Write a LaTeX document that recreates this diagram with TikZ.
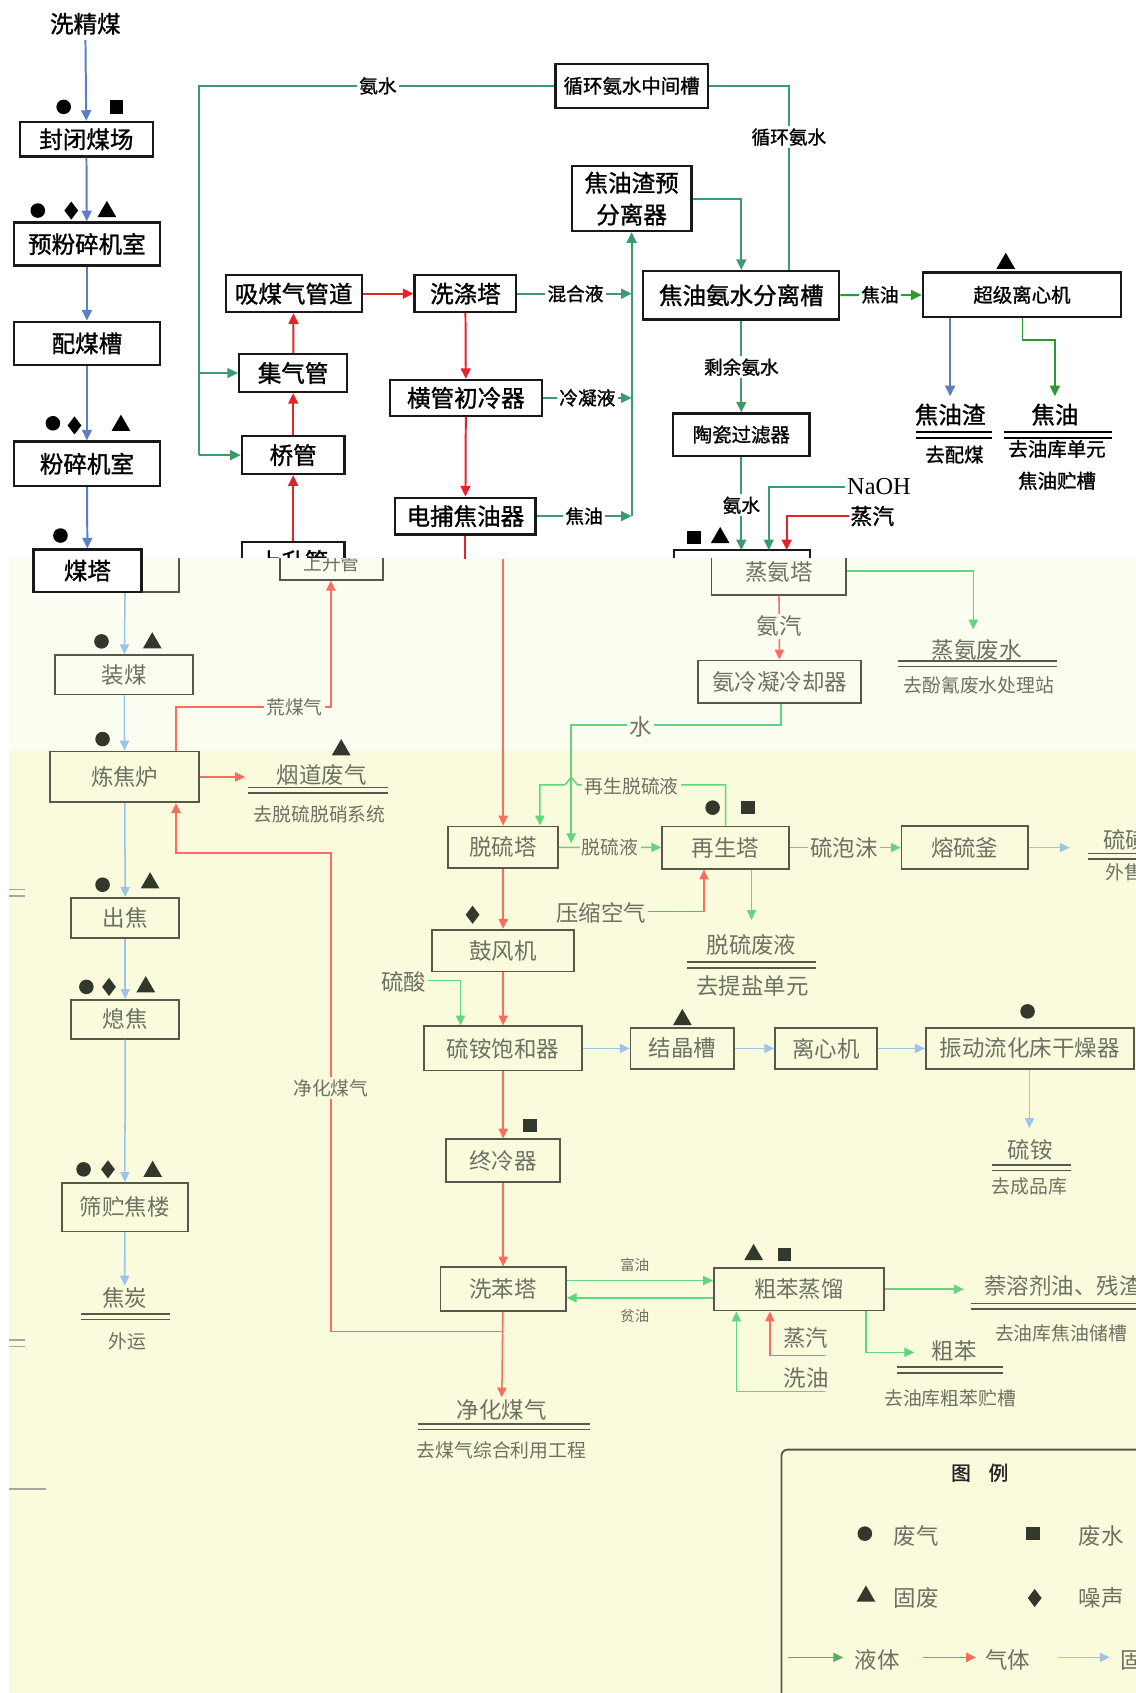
\documentclass[tikz,border=0pt]{standalone}
\usepackage{fontspec}
\setmainfont{Noto Sans CJK SC}
\newfontfamily\cjkbold[FakeBold=1.2]{Noto Sans CJK SC}
\newfontfamily\latinserif{Liberation Serif}
\usepackage{xcolor}
\usetikzlibrary{arrows.meta,shapes.geometric,positioning}

\definecolor{lq}{HTML}{3B9B6D}
\definecolor{lg}{HTML}{2A9A30}
\definecolor{gs}{HTML}{E5232B}
\definecolor{sd}{HTML}{5A7FC3}
\definecolor{flq}{HTML}{5FD67F}
\definecolor{fgs}{HTML}{FF6B5F}
\definecolor{fsd}{HTML}{9BC4E8}
\definecolor{boxc}{HTML}{55584A}
\definecolor{ftx}{HTML}{6F7062}
\definecolor{bgA}{HTML}{FCFDF1}
\definecolor{bgB}{HTML}{F9FBDC}
\definecolor{mk}{HTML}{34382C}

\newcommand\szA{\cjkbold\fontsize{15.5}{18}\selectfont}
\newcommand\szB{\cjkbold\fontsize{12.8}{15}\selectfont}
\newcommand\szC{\cjkbold\fontsize{12.3}{14}\selectfont}
\newcommand\szD{\fontsize{14.8}{17}\selectfont}
\newcommand\szE{\fontsize{12.4}{14}\selectfont}
\newcommand\szF{\fontsize{9.5}{11}\selectfont}

\tikzset{
  sz/.style 2 args={minimum width=#1*0.025cm,minimum height=#2*0.025cm},
  box/.style={draw=black!90,line width=1.5pt,fill=white,inner sep=1pt,font=\szA},
  fbx/.style={draw=boxc,line width=1.2pt,inner sep=1pt,text=ftx,font=\szD},
  lab/.style={fill=white,inner sep=1.5pt,font=\szC},
  flab/.style={fill=#1,inner sep=1.5pt,text=ftx,font=\szE},
  flab/.default=bgB,
  ft/.style={text=ftx,font=\szD,inner sep=1pt},
  hd/.style={-{Triangle[length=7pt,width=6.5pt]}},
  fhd/.style={-{Triangle[length=6.5pt,width=6pt]}},
  ln/.style={draw=lq,line width=1.3pt},
  la/.style={ln,hd},
  lga/.style={draw=lg,line width=1.3pt,hd},
  ga/.style={draw=gs,line width=1.3pt,hd},
  sa/.style={draw=sd,line width=1.3pt,hd},
  fla/.style={draw=flq,line width=1pt,fhd},
  fga/.style={draw=fgs,line width=1pt,fhd},
  fsa/.style={draw=fsd,line width=1pt,fhd},
  dbl/.style={double=#1,double distance=2.6pt,line width=1.1pt},
  dbl/.default=white,
  mc/.style={circle,fill=#1,inner sep=0pt,minimum size=13.5*0.025cm},
  mc/.default=black,
  msq/.style={rectangle,fill=#1,inner sep=0pt,minimum size=12.5*0.025cm},
  msq/.default=black,
  mtr/.style={regular polygon,regular polygon sides=3,fill=#1,inner sep=0pt,minimum size=20*0.025cm},
  mtr/.default=black,
  mdm/.style={diamond,fill=#1,inner sep=0pt,minimum width=13*0.025cm,minimum height=17*0.025cm},
  mdm/.default=black
}

\begin{document}
\begin{tikzpicture}[x=0.025cm,y=-0.025cm]

  \useasboundingbox (0,0) rectangle (1052,1568);
  \clip (0,0) rectangle (1052,1568);
  \fill[white] (0,0) rectangle (1052,1568);
  \fill[bgA] (8,517) rectangle (1052,695);
  \fill[bgB] (8,695) rectangle (1052,1568);
  \draw[black!35,line width=1pt] (8,824) -- (23,824) (8,830) -- (23,830)
    (8,1241) -- (23,1241) (8,1247) -- (23,1247) (8,1379) -- (43,1379);

  \begin{scope}
    \clip (0,517) rectangle (1052,1568);
    \node[fbx,sz={100}{39}] (fmt) at (116,528.5) {};
    \node[fbx,sz={96}{30},font=\szE] (fss) at (307,522) {上升管};
    \node[fbx,sz={124.6}{42}] (fz) at (721.3,530) {蒸氨塔};
  \end{scope}

  \node[fbx,sz={128}{36.5}] (zm) at (115,625) {装煤};
  \node[fbx,sz={138}{47}] (lj) at (115.5,719.5) {炼焦炉};
  \node[fbx,sz={100}{37}] (cj) at (116,850) {出焦};
  \node[fbx,sz={100}{36}] (xj) at (116,944) {熄焦};
  \node[fbx,sz={117}{45}] (sc) at (115.6,1118) {筛贮焦楼};
  \node[ft] (jt) at (115.5,1202) {焦炭};
  \draw[boxc,dbl=bgB] (74.7,1219.5) -- (157,1219.5);
  \node[ft,font=\szE] (wy) at (118,1242) {外运};
  \path (fmt) edge[fsa] (zm) (zm) edge[fsa] (lj) (lj) edge[fsa] (cj)
    (cj) edge[fsa] (xj) (xj) edge[fsa] (sc) (sc) edge[fsa] (jt);
  \node[mc=mk] (n1) at (94,594) {}; \node[mtr=mk] (n2) at (141,595.5) {};
  \node[mc=mk] (n3) at (95,684.5) {};
  \node[mc=mk] (n4) at (95,819.4) {}; \node[mtr=mk] (n5) at (139,817.8) {};
  \node[mc=mk] (n6) at (80,914) {}; \node[mdm=mk] (n7) at (101,914) {};
  \node[mtr=mk] (n8) at (135,914) {};
  \node[mc=mk] (n9) at (77.4,1083) {}; \node[mdm=mk] (n10) at (100,1083) {};
  \node[mtr=mk] (n11) at (141.4,1085) {};

  \coordinate (h1) at (163,655);
  \coordinate (h2) at (306.4,655);
  \draw[fga] (lj.north -| h1) -- (h1) -- (h2) -- (fss.south -| h2);
  \node[flab=bgA] (hm) at (272.7,655) {荒煤气};
  \coordinate (yd1) at (227,719.6);
  \draw[fga] (lj.east |- yd1) -- (yd1);
  \node[ft] (yd) at (298,717.6) {烟道废气};
  \draw[boxc,dbl=bgB] (230,732) -- (359,732);
  \node[ft,font=\szE] (yq) at (296,754.6) {去脱硫脱硝系统};
  \node[mtr=mk] (n12) at (316,694.5) {};

  \coordinate (g0) at (466,518);
  \node[fbx,sz={102}{38.3}] (ts) at (466,784.6) {脱硫塔};
  \node[fbx,sz={131.6}{38.7}] (gf) at (466,880.4) {鼓风机};
  \node[fbx,sz={146.5}{41}] (la) at (466,971) {硫铵饱和器};
  \node[fbx,sz={105.5}{39.5}] (zl) at (466,1075) {终冷器};
  \node[fbx,sz={116}{40.5}] (xb) at (466,1194) {洗苯塔};
  \node[ft] (jh) at (464.6,1305.5) {净化煤气};
  \draw[boxc,dbl=bgB] (387,1321.4) -- (546.7,1321.4);
  \node[ft,font=\szE] (jq2) at (464.5,1343) {去煤气综合利用工程};
  \path (g0) edge[fga] (ts) (ts) edge[fga] (gf) (gf) edge[fga] (la)
    (la) edge[fga] (zl) (zl) edge[fga] (xb) (xb) edge[fga] (jh);
  \node[mdm=mk] (n13) at (437.7,847.2) {};
  \node[msq=mk] (n14) at (491,1042.6) {};

  \coordinate (r1) at (466,1233);
  \coordinate (r2) at (306.4,1233);
  \coordinate (r3) at (306.4,790);
  \coordinate (r4) at (163,790);
  \draw[fga] (r1) -- (r2) -- (r3) -- (r4) -- (lj.south -| r4);
  \node[flab] (jhl) at (306.4,1007.6) {净化煤气};

  \node[ft] (ls) at (373.7,909) {硫酸};
  \coordinate (ls1) at (426.5,908);
  \draw[fla] (ls.east |- ls1) -- (ls1) -- (ls1 |- la.north);

  \coordinate (f1) at (901.4,529);
  \coordinate (f2) at (901.4,583);
  \draw[fla] (fz.east |- f1) -- (f1) -- (f2);
  \node[ft] (zf) at (904.6,602) {蒸氨废水};
  \draw[boxc,dbl=bgA] (832,614.8) -- (978.7,614.8);
  \node[ft,font=\szE] (zf2) at (906.6,635) {去酚氰废水处理站};

  \node[fbx,sz={151}{39.5}] (al) at (722,631.4) {氨冷凝冷却器};
  \draw[fga] (fz) -- (al);
  \node[flab=bgA,font=\szD] (aq) at (721.8,580) {氨汽};

  \node[fbx,sz={117.5}{39}] (zs) at (672,785) {再生塔};
  \node[fbx,sz={117}{39.5}] (rl) at (893.5,785) {熔硫釜};
  \coordinate (a1) at (723.5,671.3);
  \coordinate (a2) at (529,671.3);
  \coordinate (a3) at (529,781);
  \draw[fla] (al.south -| a1) -- (a1) -- (a2) -- (a3);
  \node[flab=bgA,font=\szD] (aw3) at (593,673) {水};
  \coordinate (b1) at (500,727);
  \coordinate (b2) at (672,727);
  \draw[fla] (zs.north) -- (b2) -- (535,727) -- (529,720) -- (523,727) -- (b1)
    -- (b1 |- ts.north);
  \node[flab] (zt) at (585,728.4) {再生脱硫液};
  \draw[fla] (ts) -- (zs);
  \node[flab] (tl) at (565,785) {脱硫液};
  \draw[fla] (zs) -- (rl);
  \node[flab,font=\szD] (lp) at (781.5,785) {硫泡沫};
  \node[mc=mk] (n15) at (660,748) {}; \node[msq=mk] (n16) at (692.8,748) {};

  \node[ft] (ys) at (557,845.5) {压缩空气};
  \coordinate (y1) at (652,844);
  \draw[fga] (ys.east |- y1) -- (y1) -- (y1 |- zs.south);
  \coordinate (t1) at (696,852);
  \draw[fla] (zs.south -| t1) -- (t1);
  \node[ft] (tf) at (696,875) {脱硫废液};
  \draw[boxc,dbl=bgB] (636,893.8) -- (756,893.8);
  \node[ft] (ty) at (697,913.6) {去提盐单元};

  \coordinate (s1) at (990.7,785);
  \draw[fsa] (rl) -- (s1);
  \node[ft,anchor=west] (lh) at (1020,777.8) {硫磺};
  \draw[boxc,dbl=bgB] (1007.6,793) -- (1060,793);
  \node[ft,font=\szE,anchor=west] (ws) at (1022,808) {外售};

  \node[fbx,sz={96}{38}] (jj) at (632,971) {结晶槽};
  \node[fbx,sz={94}{38}] (lx2) at (765,971) {离心机};
  \node[fbx,sz={192.6}{38}] (gz) at (953.7,971) {振动流化床干燥器};
  \path (la) edge[fsa] (jj) (jj) edge[fsa] (lx2) (lx2) edge[fsa] (gz);
  \node[mtr=mk] (n17) at (632,944.4) {};
  \node[mc=mk] (n18) at (951.7,936.7) {};
  \coordinate (g1) at (953.4,1044.7);
  \draw[fsa] (gz.south -| g1) -- (g1);
  \node[ft] (la2) at (954,1065) {硫铵};
  \draw[boxc,dbl=bgB] (919,1081.5) -- (992,1081.5);
  \node[ft,font=\szE] (cp) at (953.4,1098.8) {去成品库};

  \node[fbx,sz={157.5}{39.6}] (cb) at (740,1194) {粗苯蒸馏};
  \node[mtr=mk] (n19) at (698,1162) {}; \node[msq=mk] (n20) at (726.4,1162) {};
  \draw[fla] ([yshift=0.2cm]xb.east) -- ([yshift=0.2cm]cb.west);
  \draw[fla] ([yshift=-0.2cm]cb.west) -- ([yshift=-0.2cm]xb.east);
  \node[ft,font=\szF] (fy) at (588,1171.3) {富油};
  \node[ft,font=\szF] (py) at (588,1219) {贫油};
  \coordinate (q1) at (892.6,1194);
  \draw[fla] (cb) -- (q1);
  \node[ft,anchor=west] (rj) at (910,1191) {萘溶剂油、残渣};
  \draw[boxc,dbl=bgB] (899,1209.7) -- (1060,1209.7);
  \node[ft,font=\szE,anchor=west] (yk) at (920,1234.6) {去油库焦油储槽};
  \coordinate (p1) at (802,1252.5);
  \coordinate (p2) at (846.8,1252.5);
  \draw[fla] (cb.south -| p1) -- (p1) -- (p2);
  \node[ft] (cbn) at (883.8,1251.5) {粗苯};
  \draw[boxc,dbl=bgB] (831,1268.7) -- (928.7,1268.7);
  \node[ft,font=\szE] (ck) at (880,1294.7) {去油库粗苯贮槽};
  \coordinate (e1) at (764,1255.5);
  \coordinate (e2) at (713,1255.5);
  \draw[fga] (e1) -- (e2) -- (e2 |- cb.south);
  \node[ft] (zq2) at (746,1239) {蒸汽};
  \coordinate (o1) at (764,1288.6);
  \coordinate (o2) at (682,1288.6);
  \draw[fla] (o1) -- (o2) -- (o2 |- cb.south);
  \node[ft] (xy) at (746.5,1276) {洗油};

  \draw[boxc,line width=1.2pt,rounded corners=4pt] (723.8,1342.6) rectangle (1140,1640);
  \node[font=\cjkbold\fontsize{13}{15}\selectfont,text=black!85] (tu) at (907.4,1364) {图\hspace{0.9em}例};
  \node[mc=mk] (l1) at (801,1420.4) {};
  \node[ft,anchor=west] (l1t) at (826,1423) {废气};
  \node[msq=mk] (l2) at (956.8,1420.4) {};
  \node[ft,anchor=west] (l2t) at (997.5,1423) {废水};
  \node[mtr=mk] (l3) at (802,1478.4) {};
  \node[ft,anchor=west] (l3t) at (826,1480) {固废};
  \node[mdm=mk] (l4) at (958.3,1480) {};
  \node[ft,anchor=west] (l4t) at (997.5,1480) {噪声};
  \coordinate (k1) at (730,1535); \coordinate (k2) at (780.9,1535);
  \coordinate (k3) at (855,1535); \coordinate (k4) at (904,1535);
  \coordinate (k5) at (980,1535); \coordinate (k6) at (1027.8,1535);
  \draw[fla,draw=lg!80] (k1) -- (k2);
  \draw[fga] (k3) -- (k4);
  \draw[fsa] (k5) -- (k6);
  \node[ft,anchor=west] (k2t) at (790,1537) {液体};
  \node[ft,anchor=west] (k4t) at (911,1537) {气体};
  \node[ft,anchor=west] (k6t) at (1036,1537) {固体};

  \node[font=\szA] (jmc) at (79,22) {洗精煤};
  \node[box,sz={123}{32}] (fb) at (80,129) {封闭煤场};
  \node[box,sz={135}{40}] (yf) at (80.5,226) {预粉碎机室};
  \node[box,sz={135}{40}] (pm) at (80.5,318) {配煤槽};
  \node[box,sz={135}{41}] (fs) at (80.5,429.5) {粉碎机室};
  \node[box,sz={100}{39}] (mt) at (81,528.5) {煤塔};
  \path (jmc) edge[sa] (fb) (fb) edge[sa] (yf) (yf) edge[sa] (pm)
    (pm) edge[sa] (fs) (fs) edge[sa] (mt);
  \node[mc] (m1) at (59,99) {}; \node[msq] (m2) at (108,99) {};
  \node[mc] (m3) at (35,195) {}; \node[mdm] (m4) at (66,195) {};
  \node[mtr] (m5) at (99,196) {};
  \node[mc] (m6) at (49,392) {}; \node[mdm] (m7) at (69,394) {};
  \node[mtr] (m8) at (112,394) {};
  \node[mc] (m9) at (56,496) {};

  \begin{scope}
    \clip (0,0) rectangle (1052,516);
    \node[box,sz={95}{35}] (ss) at (271.5,519.5) {上升管};
    \node[box,sz={126}{40}] (za) at (687,529.5) {};
  \end{scope}
  \node[box,sz={126}{34}] (xm) at (272,272) {吸煤气管道};
  \node[box,sz={100}{35}] (jq) at (271.5,345.5) {集气管};
  \node[box,sz={95}{35}] (qg) at (271.5,421.5) {桥管};
  \node[box,sz={94}{34}] (xd) at (431,272) {洗涤塔};
  \node[box,sz={141}{33}] (hg) at (431.5,368.5) {横管初冷器};
  \node[box,sz={130}{34}] (db) at (431,478) {电捕焦油器};
  \path (ss) edge[ga] (qg) (qg) edge[ga] (jq) (jq) edge[ga] (xm)
    (xm) edge[ga] (xd) (xd) edge[ga] (hg) (hg) edge[ga] (db);
  \coordinate (dbe) at (431,518);
  \draw[draw=gs,line width=1.3pt] (db) -- (dbe);

  \node[box,sz={141}{41},font=\szB] (zj) at (585,79.5) {循环氨水中间槽};
  \node[box,sz={111}{60},align=center,font=\cjkbold\fontsize{15.5}{21}\selectfont] (jy) at (585,184) {焦油渣预\\分离器};
  \node[box,sz={181.5}{45}] (fl) at (686.6,273.5) {焦油氨水分离槽};
  \node[box,sz={183.5}{41.5},font=\szB] (lx) at (946.5,273) {超级离心机};
  \node[box,sz={126}{39},font=\szB] (tc) at (686.6,402.5) {陶瓷过滤器};

  \coordinate (c1) at (184.5,79.5);
  \draw[ln] (zj) -- (c1) -- (c1 |- qg);
  \draw[la] (c1 |- jq) -- (jq);
  \draw[la] (c1 |- qg) -- (qg);
  \node[lab] (aw) at (350,79.5) {氨水};
  \coordinate (c2) at (730.6,79.5);
  \draw[ln] (zj) -- (c2) -- (c2 |- fl.north);
  \node[lab] (xh) at (730.6,127) {循环氨水};
  \draw[la] (jy) -| (fl);
  \coordinate (c3) at (585,478);
  \draw[la] (xd) -- (xd -| c3);
  \draw[la] (hg) -- (hg -| c3);
  \draw[la] (db) -- (c3);
  \draw[la] (c3) -- (jy);
  \node[lab] (hh) at (533,272) {混合液};
  \node[lab] (lnl) at (544,368.5) {冷凝液};
  \node[lab] (jyl) at (541,478) {焦油};

  \draw[lga] (fl) -- (lx);
  \node[lab] (jyl2) at (815,273) {焦油};
  \node[mtr] (m10) at (931.5,244) {};
  \coordinate (jz) at (880,367);
  \draw[sa] (lx.south -| jz) -- (jz);
  \node[font=\szA] (ozz) at (880,384) {焦油渣};
  \draw[dbl] (848,402.8) -- (919,402.8);
  \node[font=\szB] (opm) at (884,421) {去配煤};
  \coordinate (k7) at (947,315);
  \coordinate (jo) at (977,367);
  \draw[lga] (lx.south -| k7) -- (k7) -| (jo);
  \node[font=\szA] (ojy) at (977,384) {焦油};
  \draw[dbl] (930,402.8) -- (1029.6,402.8);
  \node[align=center,font=\cjkbold\fontsize{12.8}{21}\selectfont] (oyk) at (979,430.5) {去油库单元\\焦油贮槽};

  \draw[la] (fl) -- (tc);
  \node[lab] (sy) at (686.6,340) {剩余氨水};
  \coordinate (zt1) at (686.6,509.5);
  \draw[la] (tc) -- (zt1);
  \node[lab] (aw2) at (686.6,468) {氨水};
  \node[font=\latinserif\fontsize{16}{18}\selectfont,anchor=west,inner sep=1pt] (na) at (783,451) {NaOH};
  \coordinate (zt2) at (712,509.5);
  \draw[la] (na.west) -| (zt2);
  \node[font=\cjkbold\fontsize{14.4}{17}\selectfont,anchor=west,inner sep=1pt] (zq) at (786,478) {蒸汽};
  \coordinate (zt3) at (728.6,509.5);
  \draw[ga] (zq.west) -| (zt3);
  \node[msq] (m11) at (642.6,498) {}; \node[mtr] (m12) at (667,498) {};
\end{tikzpicture}
\end{document}
